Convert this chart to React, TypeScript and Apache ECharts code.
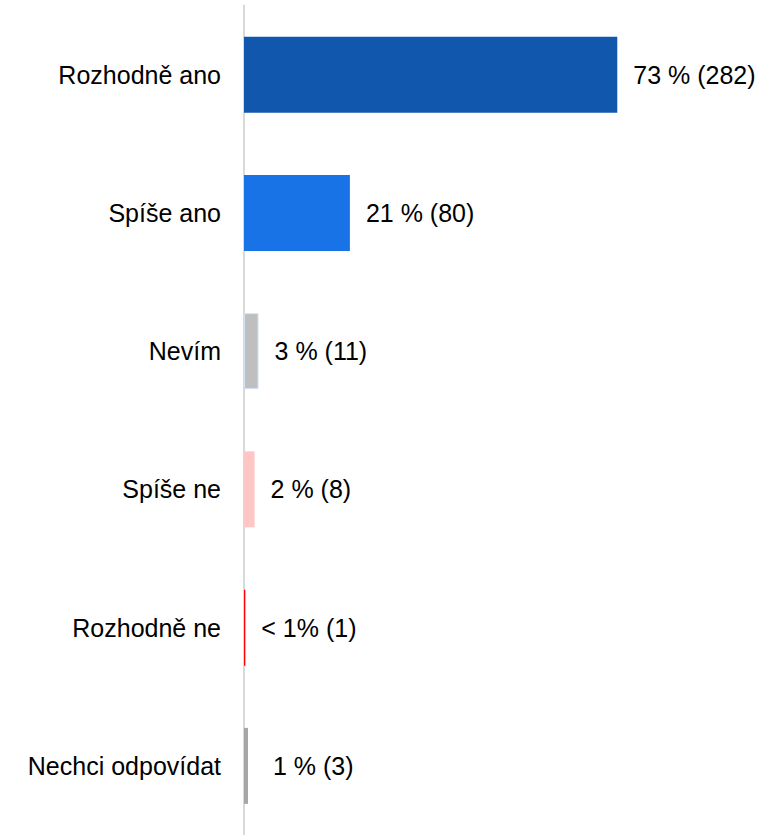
import React, { useEffect, useRef } from "react";
import * as echarts from "echarts";

const categories = ["Rozhodně ano", "Spíše ano", "Nevím", "Spíše ne", "Rozhodně ne", "Nechci odpovídat"];
const counts = [282, 80, 11, 8, 1, 3];
const valueLabels = ["73 % (282)", "21 % (80)", "3 % (11)", "2 % (8)", "< 1% (1)", "1 % (3)"];
const barColors = ["#1057ad", "#1874e6", "#bfbfbf", "#ffc6c6", "#ff0000", "#a6a6a6"];
const barBorders = ["#1057ad", "#1874e6", "#d3e3f7", "#ffc6c6", "#ff0000", "#a6a6a6"];

const FONT = "'Liberation Sans', Arial, Helvetica, sans-serif";

export default function App() {
  const ref = useRef<HTMLDivElement>(null);
  useEffect(() => {
    if (!ref.current) return;
    const chart = echarts.init(ref.current, undefined, { renderer: "svg" });
    chart.setOption({
      animation: false,
      grid: { left: 244, top: 5.5, width: 503, height: 834, containLabel: false },
      xAxis: {
        type: "value",
        min: 0,
        max: 380,
        show: false,
      },
      yAxis: {
        type: "category",
        data: categories,
        inverse: true,
        offset: 1,
        axisLine: { show: true, lineStyle: { color: "#d9d9d9", width: 2 } },
        axisTick: { show: false },
        axisLabel: { color: "#000", fontSize: 25, fontFamily: FONT, margin: 22 },
      },
      series: [
        {
          type: "bar",
          barWidth: 76,
          data: counts.map((v, i) => ({
            value: v,
            itemStyle: { color: barColors[i], borderColor: barBorders[i], borderWidth: i === 2 ? 1 : 0 },
            label: { distance: i === 5 ? 25 : 16 },
          })),
          label: {
            show: true,
            position: "right",
            color: "#000",
            fontSize: 25,
            fontFamily: FONT,
            formatter: (p: any) => valueLabels[p.dataIndex],
          },
        },
      ],
    });
    return () => chart.dispose();
  }, []);
  return <div ref={ref} style={{ position: "absolute", left: 0, top: 0, width: 769, height: 835 }} />;
}
